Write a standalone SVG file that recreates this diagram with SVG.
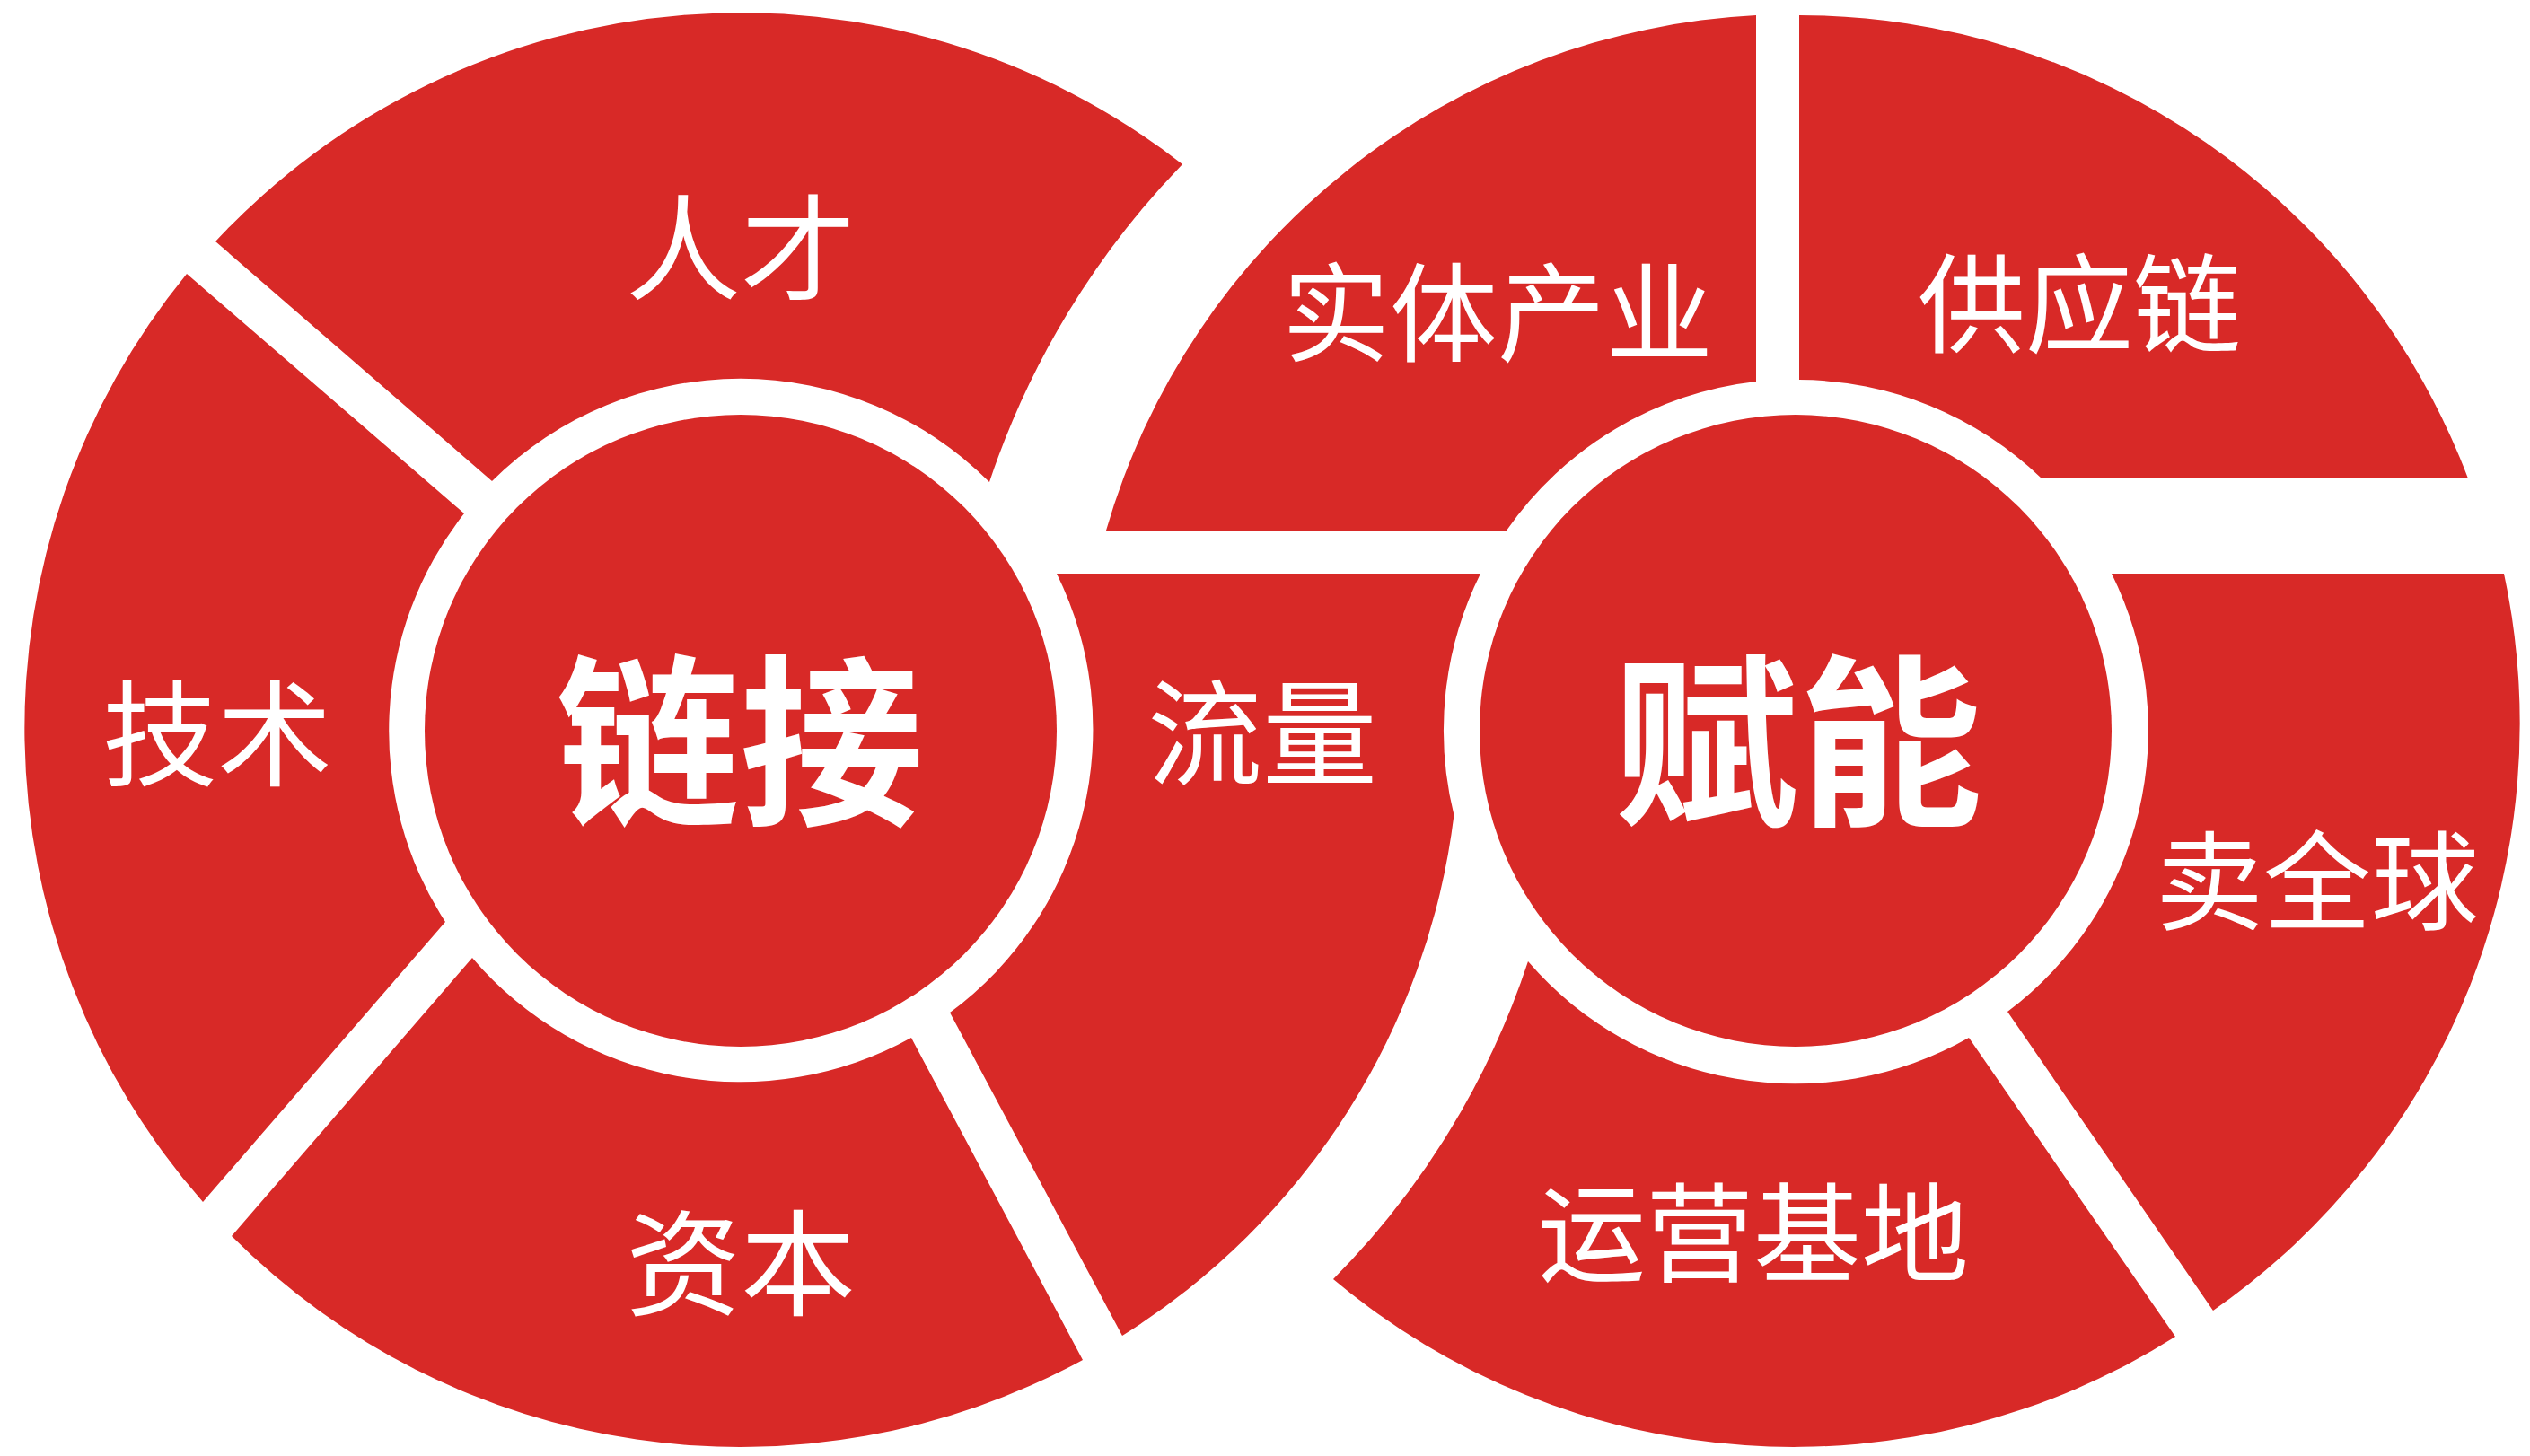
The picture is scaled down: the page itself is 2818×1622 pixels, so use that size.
<svg xmlns="http://www.w3.org/2000/svg" width="2818" height="1622" viewBox="0 0 2818 1622">
<style>
.seg{fill:#D82927}
.lbl{font-family:"Noto Sans CJK SC","Liberation Sans",sans-serif;fill:#ffffff;text-anchor:middle;dominant-baseline:central}
.s{font-size:128px}
.m{font-size:120px}
.b{font-size:205px;font-weight:700}
</style>
<rect width="2818" height="1622" fill="#ffffff"/>
<g id="connectors"/>
<g id="rencai">
<path class="seg" d="M 240,269 A 800 800 0 0 1 1317,183 A 935 935 0 0 0 1102,537 A 392 392 0 0 0 548,536 Z"/>
<text class="lbl s" x="825" y="269">人才</text>
</g>
<g id="jishu">
<path class="seg" d="M 208,305 L 517,572 A 392 392 0 0 0 496,1027 L 226,1339 A 800 800 0 0 1 208,305 Z"/>
<text class="lbl s" x="242" y="810">技术</text>
</g>
<g id="ziben">
<path class="seg" d="M 258,1377 L 526,1067 A 392 392 0 0 0 1015,1156 L 1206,1515 A 800 800 0 0 1 258,1377 Z"/>
<text class="lbl s" x="825" y="1400">资本</text>
</g>
<g id="liuliang">
<path class="seg" d="M 1177,639 L 1649,639 A 392 392 0 0 0 1619.5,908 A 800 800 0 0 1 1250,1488 L 1058,1128 A 392 392 0 0 0 1177,639 Z"/>
<text class="lbl s" x="1406" y="809">流量</text>
</g>
<g id="lianjie">
<circle class="seg" cx="825" cy="814" r="352"/>
<text class="lbl b" x="824" y="813">链接</text>
</g>
<g id="shiti">
<path class="seg" d="M 1232,591 A 797 797 0 0 1 1956,17 L 1956,425 A 392 392 0 0 0 1678,591 Z"/>
<text class="lbl m" x="1668" y="342">实体产业</text>
</g>
<g id="gongying">
<path class="seg" d="M 2004,17 A 797 797 0 0 1 2749,533 L 2274,533 A 392 392 0 0 0 2004,423 Z"/>
<text class="lbl m" x="2316" y="332">供应链</text>
</g>
<g id="maiquanqiu">
<path class="seg" d="M 2352,639 L 2789,639 A 797 797 0 0 1 2465,1460 L 2236,1127 A 392 392 0 0 0 2352,639 Z"/>
<text class="lbl m" x="2581" y="975">卖全球</text>
</g>
<g id="yunying">
<path class="seg" d="M 1702,1071 A 392 392 0 0 0 2193,1156 L 2423,1489 A 797 797 0 0 1 1485,1425 A 905 905 0 0 0 1702,1071 Z"/>
<text class="lbl m" x="1953" y="1367">运营基地</text>
</g>
<g id="funeng">
<circle class="seg" cx="2000" cy="814" r="352"/>
<text class="lbl b" x="2003" y="813">赋能</text>
</g>
</svg>
